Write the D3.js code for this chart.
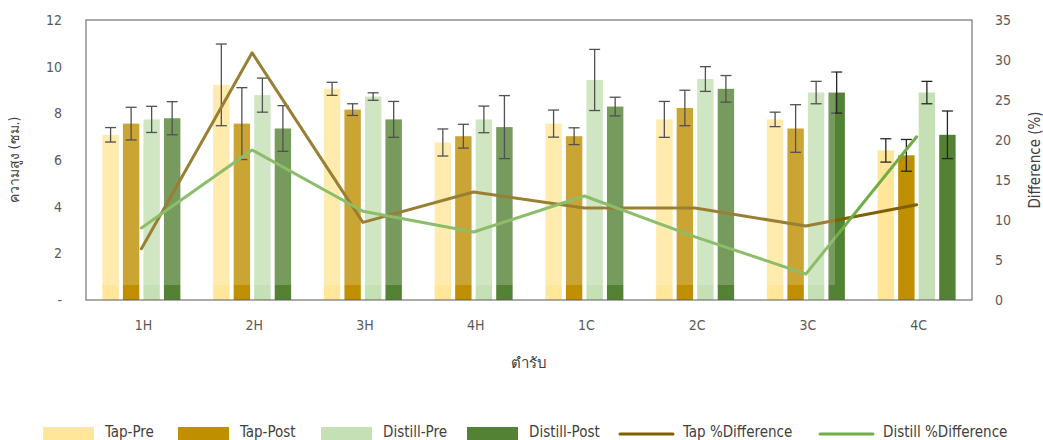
<!DOCTYPE html>
<html>
<head>
<meta charset="utf-8">
<script src="https://cdn.jsdelivr.net/npm/d3@7"></script>
<style>
  html, body { margin: 0; padding: 0; background: #fff; }
  svg text { font-family: 'DejaVu Sans Condensed', 'DejaVu Sans', 'Noto Sans', sans-serif; font-stretch: condensed; }
</style>
</head>
<body>
<svg id="chart" width="1043" height="440"></svg>
<script>
const categories = ["1H", "2H", "3H", "4H", "1C", "2C", "3C", "4C"];
const seriesNames = ["Tap-Pre", "Tap-Post", "Distill-Pre", "Distill-Post"];
const tapPre = [7.08, 9.22, 9.05, 6.75, 7.56, 7.74, 7.74, 6.41];
const tapPreErr = [0.31, 1.75, 0.28, 0.58, 0.58, 0.77, 0.31, 0.50];
const tapPost = [7.56, 7.56, 8.16, 7.02, 7.02, 8.23, 7.35, 6.20];
const tapPostErr = [0.70, 1.54, 0.25, 0.51, 0.36, 0.76, 1.02, 0.68];
const distillPre = [7.74, 8.78, 8.72, 7.74, 9.43, 9.47, 8.89, 8.89];
const distillPreErr = [0.56, 0.73, 0.16, 0.57, 1.31, 0.53, 0.48, 0.48];
const distillPost = [7.79, 7.35, 7.74, 7.41, 8.29, 9.05, 8.89, 7.08];
const distillPostErr = [0.71, 0.98, 0.77, 1.35, 0.40, 0.57, 0.88, 1.02];
const lineNames = ["Tap %Difference", "Distill %Difference"];
const tapDiff = [6.4, 30.9, 9.7, 13.5, 11.5, 11.5, 9.25, 11.9];
const distillDiff = [9.0, 18.75, 11.1, 8.5, 13.0, 7.9, 3.25, 20.4];
const leftTicks = [0, 2, 4, 6, 8, 10, 12];
const rightTicks = [0, 5, 10, 15, 20, 25, 30, 35];
const yTitle = "ความสูง (ซม.)";
const y2Title = "Difference (%)";
const xTitle = "ตำรับ";

const barColors = ["#FFE699", "#BF8F00", "#C5E0B4", "#548235"];
const lineColors = ["#7F6000", "#70AD47"];
const barVals = [tapPre, tapPost, distillPre, distillPost];
const barErrs = [tapPreErr, tapPostErr, distillPreErr, distillPostErr];
const lineVals = [tapDiff, distillDiff];

const svg = d3.select("#chart");
const L = 86, R = 972, T = 20, B = 300;

const x = d3.scaleBand().domain(categories).range([L, R]).padding(0);
const xs = d3.scaleBand().domain(seriesNames).range([-39, 39]).paddingInner(0.2);
const y = d3.scaleLinear().domain([0, 12]).range([B, T]);
const y2 = d3.scaleLinear().domain([0, 35]).range([B, T]);

// bars
seriesNames.forEach((s, si) => {
  svg.append("g").selectAll("rect").data(categories).join("rect")
    .attr("x", c => x(c) + x.bandwidth() / 2 + xs(s))
    .attr("y", (c, i) => y(barVals[si][i]))
    .attr("width", xs.bandwidth())
    .attr("height", (c, i) => B - y(barVals[si][i]))
    .attr("fill", barColors[si]);
});

// error bars
seriesNames.forEach((s, si) => {
  const g = svg.append("g").attr("stroke", "#262626").attr("stroke-width", 1.3).attr("fill", "none");
  categories.forEach((c, i) => {
    const cx = x(c) + x.bandwidth() / 2 + xs(s) + xs.bandwidth() / 2;
    const v = barVals[si][i], e = barErrs[si][i];
    const y0 = y(v - e), y1 = y(v + e);
    g.append("line").attr("x1", cx).attr("x2", cx).attr("y1", y0).attr("y2", y1);
    g.append("line").attr("x1", cx - 5.5).attr("x2", cx + 5.5).attr("y1", y0).attr("y2", y0);
    g.append("line").attr("x1", cx - 5.5).attr("x2", cx + 5.5).attr("y1", y1).attr("y2", y1);
  });
});

// lines
lineVals.forEach((vals, li) => {
  const line = d3.line().x((d, i) => x(categories[i]) + x.bandwidth() / 2).y(d => y2(d));
  svg.append("path").datum(vals).attr("d", line)
    .attr("fill", "none").attr("stroke", lineColors[li]).attr("stroke-width", 3)
    .attr("stroke-linejoin", "round").attr("stroke-linecap", "round");
});

// watermark fade overlay
svg.append("rect").attr("x", L + 1).attr("y", 0).attr("width", 835 - L - 1).attr("height", 285)
  .attr("fill", "#ffffff").attr("opacity", 0.2);

// frame
svg.append("rect").attr("x", L).attr("y", T).attr("width", R - L).attr("height", B - T)
  .attr("fill", "none").attr("stroke", "#595959").attr("stroke-width", 1);

// left axis
const gl = svg.append("g").attr("transform", `translate(${L},0)`)
  .call(d3.axisLeft(y).tickValues(leftTicks).tickSize(0).tickPadding(24).tickFormat(d => d === 0 ? "-" : d));
gl.select(".domain").remove();
gl.selectAll("text").attr("fill", "#595959").style("font-size", "14px");

// right axis
const gr = svg.append("g").attr("transform", `translate(${R},0)`)
  .call(d3.axisRight(y2).tickValues(rightTicks).tickSize(0).tickPadding(23));
gr.select(".domain").remove();
gr.selectAll("text").attr("fill", "#595959").style("font-size", "14px");

// x axis
const gx = svg.append("g").attr("transform", `translate(2,${B})`)
  .call(d3.axisBottom(x).tickSize(0).tickPadding(20));
gx.select(".domain").remove();
gx.selectAll("text").attr("fill", "#595959").style("font-size", "14px");

// titles
svg.append("text").attr("transform", `translate(19,160) rotate(-90)`)
  .attr("text-anchor", "middle").attr("fill", "#404040").style("font-size", "14px").text(yTitle);
svg.append("text").attr("transform", `translate(1040,160) rotate(-90)`)
  .attr("text-anchor", "middle").attr("fill", "#404040").style("font-size", "15px").text(y2Title);
svg.append("text").attr("x", (L + R) / 2).attr("y", 368)
  .attr("text-anchor", "middle").attr("fill", "#404040").style("font-size", "15px").text(xTitle);

// legend
const legBars = [43, 178, 321, 467];
seriesNames.forEach((s, si) => {
  svg.append("rect").attr("x", legBars[si]).attr("y", 427).attr("width", 51).attr("height", 13).attr("fill", barColors[si]);
  svg.append("text").attr("x", legBars[si] + 62).attr("y", 437).attr("fill", "#404040").style("font-size", "15px").text(s);
});
const legLines = [620, 820];
lineNames.forEach((s, li) => {
  svg.append("line").attr("x1", legLines[li]).attr("x2", legLines[li] + 53).attr("y1", 434).attr("y2", 434)
    .attr("stroke", lineColors[li]).attr("stroke-width", 3).attr("stroke-linecap", "round");
  svg.append("text").attr("x", legLines[li] + 63).attr("y", 437).attr("fill", "#404040").style("font-size", "15px").text(s);
});
</script>
</body>
</html>
